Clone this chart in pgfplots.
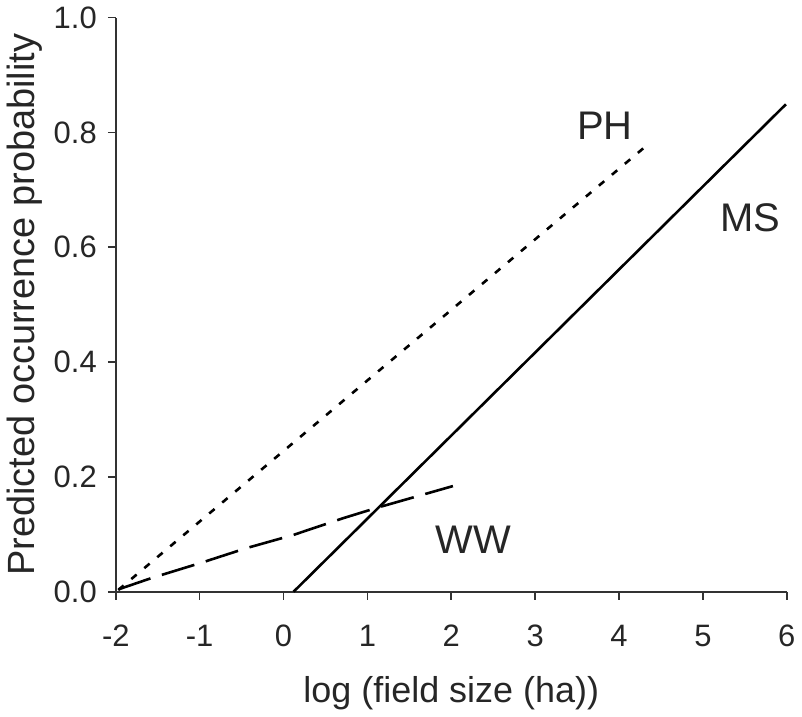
\documentclass[border=0pt]{standalone}
\usepackage{fontspec}
\setmainfont{Liberation Sans}
\usepackage{pgfplots}
\pgfplotsset{compat=1.18}
\begin{document}
\begin{tikzpicture}
\begin{axis}[
  scale only axis, width=336pt, height=287.5pt,
  xmin=-2, xmax=6, ymin=0, ymax=1,
  axis lines*=left, axis line style={black!80, line width=0.8pt},
  xtick={-2,...,6}, ytick={0,0.2,...,1.0},
  yticklabel style={/pgf/number format/fixed, /pgf/number format/fixed zerofill, /pgf/number format/precision=1},
  /pgf/number format/assume math mode=true,
  tick style={black!80, line width=0.8pt}, tick align=outside, major tick length=4pt,
  ticklabel style={font=\fontsize{15.5}{18}\selectfont, text=black!85},
  xticklabel style={yshift=-9pt}, yticklabel style={xshift=-2pt},
  xlabel={log (field size (ha))}, ylabel={Predicted occurrence probability},
  label style={font=\fontsize{18}{21}\selectfont, text=black!85},
  xlabel style={yshift=-8pt}, ylabel style={font=\fontsize{19}{22}\selectfont, yshift=-1pt},
  clip=false,
]
\addplot[black, line width=1.3pt, dash pattern=on 3.5pt off 5pt] coordinates {(-1.97,0.003) (4.32,0.776)};
\addplot[black, line width=1.3pt] coordinates {(0.12,0) (5.99,0.849)};
\addplot[black, line width=1.3pt, dash pattern=on 17pt off 6pt] coordinates {
 (-1.97,0.004) (-1.57,0.024) (-0.99,0.050) (-0.44,0.076) (0.12,0.099) (0.71,0.128) (1.11,0.146) (2.02,0.184)};
\node[font=\fontsize{20}{24}\selectfont, text=black!85] at (axis cs:3.83,0.812) {PH};
\node[font=\fontsize{20}{24}\selectfont, text=black!85] at (axis cs:5.57,0.652) {MS};
\node[font=\fontsize{20}{24}\selectfont, text=black!85] at (axis cs:2.26,0.090) {WW};
\end{axis}
\end{tikzpicture}
\end{document}
